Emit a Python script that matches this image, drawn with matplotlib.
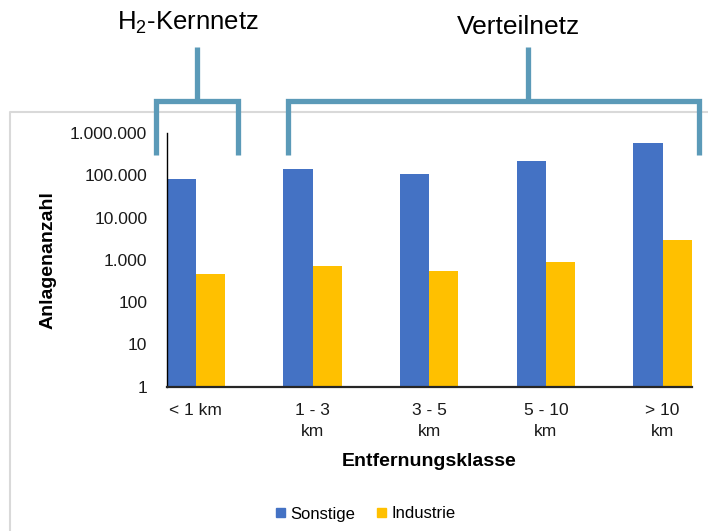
import matplotlib
matplotlib.use("Agg")
import matplotlib.pyplot as plt
import numpy as np
from matplotlib.lines import Line2D
from matplotlib.patches import Patch
from matplotlib.ticker import FixedLocator, FuncFormatter, NullLocator

plt.rcParams['font.family'] = ['Liberation Sans', 'DejaVu Sans']
plt.rcParams['mathtext.fontset'] = 'custom'
plt.rcParams['mathtext.rm'] = 'Liberation Sans'

categories = ["< 1 km", "1 - 3\nkm", "3 - 5\nkm", "5 - 10\nkm", "> 10\nkm"]
sonstige = [82000, 142000, 110000, 220000, 575000]
industrie = [470, 700, 540, 900, 2950]
series_names = ["Sonstige", "Industrie"]
y_ticks = [1, 10, 100, 1000, 10000, 100000, 1000000]

BLUE = "#4472C4"
GOLD = "#FFC000"
BRACKET = "#5B9AB8"
FRAME = "#D9D9D9"

W, H = 708, 531
fig = plt.figure(figsize=(W / 100, H / 100), dpi=100)


def fx(px):
    return px / W


def fy(py):
    return 1 - py / H


ax_left, ax_right, ax_top, ax_bottom = 166.7, 691.7, 133, 386.7
ax = fig.add_axes([fx(ax_left), fy(ax_bottom), fx(ax_right) - fx(ax_left), fy(ax_top) - fy(ax_bottom)])

x = np.arange(len(categories))
bw = 0.25
ax.bar(x - bw / 2, sonstige, width=bw, color=BLUE, zorder=2)
ax.bar(x + bw / 2, industrie, width=bw, color=GOLD, zorder=2)

ax.set_yscale("log")
ax.set_ylim(1, 1e6)
ax.set_xlim(-0.25, len(categories) - 0.75)
ax.yaxis.set_major_locator(FixedLocator(y_ticks))
ax.yaxis.set_minor_locator(NullLocator())
ax.yaxis.set_major_formatter(FuncFormatter(lambda v, p: f"{int(round(v)):,}".replace(",", ".")))
ax.set_xticks(x)
ax.set_xticklabels(categories, fontsize=12.5, color="#1a1a1a", linespacing=1.5)
ax.tick_params(axis="y", length=0, pad=14, labelsize=12.5, labelcolor="#1a1a1a")
ax.tick_params(axis="x", length=0, pad=12)

for s in ("top", "right"):
    ax.spines[s].set_visible(False)
ax.spines["left"].set_color("black")
ax.spines["left"].set_linewidth(1.0)
ax.spines["bottom"].set_color("#262626")
ax.spines["bottom"].set_linewidth(1.6)

ax.set_ylabel("Anlagenanzahl", fontsize=14, fontweight="bold")
ax.yaxis.set_label_coords((57 - ax_left) / (ax_right - ax_left), 0.5)
ax.set_xlabel("Entfernungsklasse", fontsize=14, fontweight="bold", labelpad=10)

# outer chart frame (top and left edges visible)
fig.add_artist(Line2D([fx(10), fx(10), 1.0], [0.0, fy(111.7), fy(111.7)],
                      transform=fig.transFigure, color=FRAME, lw=1.5, zorder=0))

# legend
handles = [Patch(color=BLUE), Patch(color=GOLD)]
fig.legend(handles, series_names, loc="center", bbox_to_anchor=(fx(366), fy(514)),
           ncol=2, frameon=False, fontsize=12, handlelength=0.5, handleheight=0.5,
           handletextpad=0.35, columnspacing=1.3)


def bracket(x0, x1, xs, y_top, y_bar, y_leg, label, tx, ty, size):
    fig.add_artist(Line2D([fx(x0), fx(x0), fx(x1), fx(x1)],
                          [fy(y_leg), fy(y_bar), fy(y_bar), fy(y_leg)],
                          transform=fig.transFigure, color=BRACKET, lw=3.8,
                          solid_joinstyle="miter", solid_capstyle="butt", zorder=5))
    fig.add_artist(Line2D([fx(xs), fx(xs)], [fy(y_top), fy(y_bar)],
                          transform=fig.transFigure, color=BRACKET, lw=3.8,
                          solid_capstyle="butt", zorder=5))
    fig.text(fx(tx), fy(ty), label, ha="center", va="center", fontsize=size,
             color="black")


bracket(155.7, 237.7, 196.7, 47, 101, 155, r"H$_\mathregular{2}$-Kernnetz", 188, 23, 18.5)
bracket(287.5, 699, 528, 47, 101, 155, "Verteilnetz", 519, 27, 19)

fig.savefig("out.png", dpi=100)
